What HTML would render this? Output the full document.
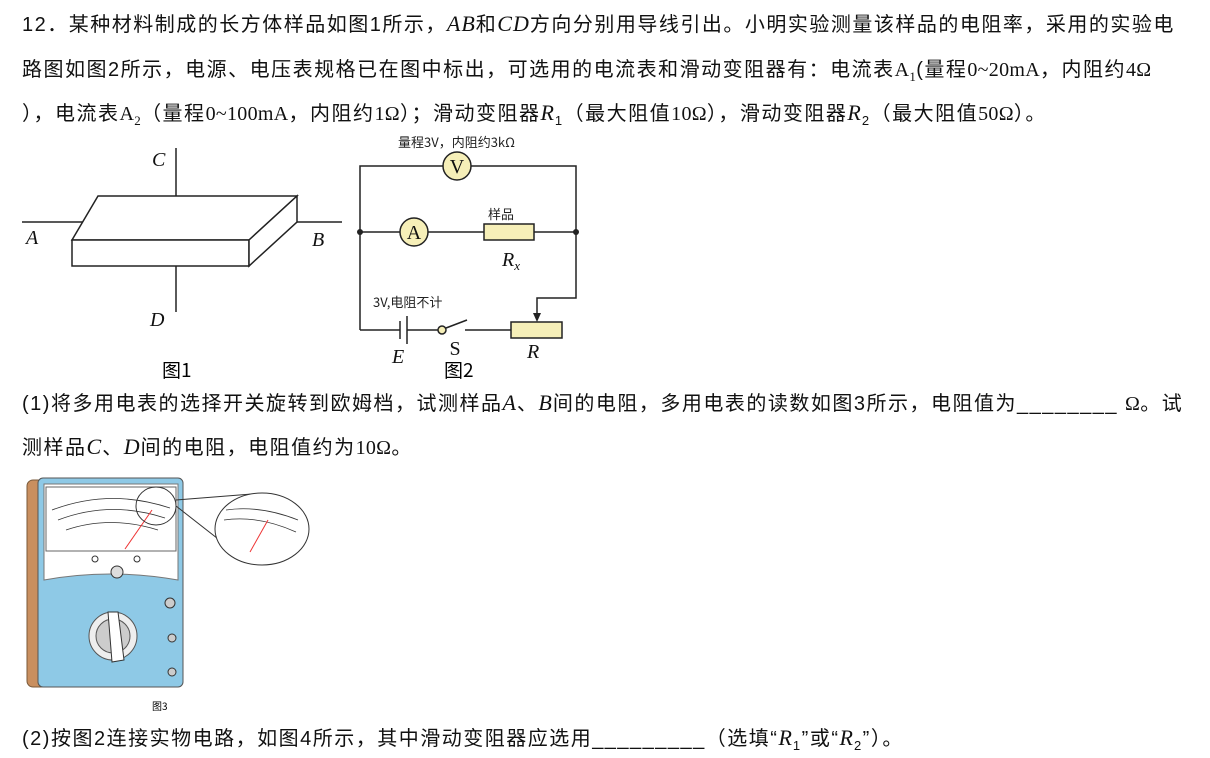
<!DOCTYPE html><html><head><meta charset="utf-8"><style>
body{margin:0;width:1210px;height:758px;background:#fff;overflow:hidden;position:relative;font-family:"Liberation Sans","Noto Sans CJK SC",sans-serif;color:#111}
.t{position:absolute;left:22px;font-size:20px;letter-spacing:1.5px;white-space:nowrap;line-height:24px}
i{font-family:"Liberation Serif",serif;font-size:22px;letter-spacing:1px}
.s{font-family:"Liberation Serif",serif;letter-spacing:0.3px}
</style></head><body>
<div class="t" style="top:12px">12．某种材料制成的长方体样品如图1所示，<i>AB</i>和<i>CD</i>方向分别用导线引出。小明实验测量该样品的电阻率，采用的实验电</div>
<div class="t" style="top:58px">路图如图2所示，电源、电压表规格已在图中标出，可选用的电流表和滑动变阻器有：电流表<span class="s">A<sub style="font-size:13px">1</sub></span>(量程<span class="s">0~20mA</span>，内阻约<span class="s">4Ω</span></div>
<div class="t" style="top:101px">），电流表<span class="s">A<sub style="font-size:13px">2</sub></span>（量程<span class="s">0~100mA</span>，内阻约<span class="s">1Ω</span>）；滑动变阻器<i>R</i><sub style="font-size:13px">1</sub>（最大阻值<span class="s">10Ω</span>），滑动变阻器<i>R</i><sub style="font-size:13px">2</sub>（最大阻值<span class="s">50Ω</span>）。</div>
<div class="t" style="top:391px">(1)将多用电表的选择开关旋转到欧姆档，试测样品<i>A</i>、<i>B</i>间的电阻，多用电表的读数如图3所示，电阻值为________ <span class="s">Ω</span>。试</div>
<div class="t" style="top:435px">测样品<i>C</i>、<i>D</i>间的电阻，电阻值约为<span class="s">10Ω</span>。</div>
<div class="t" style="top:726px">(2)按图2连接实物电路，如图4所示，其中滑动变阻器应选用_________（选填“<i>R</i><sub style="font-size:13px">1</sub>”或“<i>R</i><sub style="font-size:13px">2</sub>”）。</div>
<svg width="1210" height="758" style="position:absolute;left:0;top:0" font-family="Liberation Serif,serif">
<g stroke="#222" stroke-width="1.5" fill="#fff">
<line x1="176" y1="148" x2="176" y2="218"/>
<line x1="22" y1="222" x2="100" y2="222"/>
<polygon points="72,240 98,196 297,196 249,240"/>
<rect x="72" y="240" width="177" height="26"/>
<polygon points="249,240 297,196 297,222 249,266"/>
<line x1="176" y1="266" x2="176" y2="312"/>
<line x1="297" y1="222" x2="342" y2="222"/>
</g>
<g font-style="italic" font-size="20" fill="#111">
<text x="152" y="166">C</text><text x="26" y="244">A</text><text x="312" y="246">B</text><text x="150" y="326">D</text></g>
<text x="162" y="377" font-size="19" font-family="Noto Sans CJK SC">图1</text>
<g stroke="#222" stroke-width="1.5" fill="none">
<polyline points="360,330 360,166 576,166 576,298 537,298 537,316"/>
<line x1="360" y1="232" x2="576" y2="232"/>
<line x1="360" y1="330" x2="400" y2="330"/><line x1="407" y1="330" x2="438" y2="330"/>
<line x1="400" y1="321" x2="400" y2="339"/><line x1="407" y1="316" x2="407" y2="344"/>
<line x1="446" y1="328" x2="467" y2="320"/>
<line x1="465" y1="330" x2="511" y2="330"/>
</g>
<polygon points="533,313 541,313 537,322" fill="#222"/>
<circle cx="360" cy="232" r="3" fill="#222"/><circle cx="576" cy="232" r="3" fill="#222"/>
<circle cx="442" cy="330" r="4" fill="#f6efb8" stroke="#222" stroke-width="1.5"/>
<g fill="#f6efb8" stroke="#222" stroke-width="1.5">
<circle cx="457" cy="166" r="14"/><circle cx="414" cy="232" r="14"/>
<rect x="484" y="224" width="50" height="16"/><rect x="511" y="322" width="51" height="16"/></g>
<g font-size="20" fill="#111" text-anchor="middle"><text x="457" y="173">V</text><text x="414" y="239">A</text><text x="455" y="355">S</text></g>
<g font-size="20" fill="#111" font-style="italic"><text x="502" y="266">R<tspan font-size="13" dy="4">x</tspan></text><text x="392" y="363">E</text><text x="527" y="358">R</text></g>
<g font-family="Noto Sans CJK SC,sans-serif" fill="#222" font-size="13"><text x="398" y="147">量程3V，内阻约3kΩ</text><text x="488" y="219">样品</text><text x="373" y="307">3V,电阻不计</text></g>
<text x="444" y="377" font-size="19" font-family="Noto Sans CJK SC">图2</text>
<rect x="27" y="480" width="20" height="207" rx="6" fill="#c98f5f" stroke="#7a5a3a"/>
<rect x="38" y="478" width="145" height="209" rx="5" fill="#8ec9e6" stroke="#555"/>
<path d="M44,484 H178 V580 Q110,568 44,580 Z" fill="#fff" stroke="#777"/>
<rect x="46" y="487" width="130" height="64" fill="#fff" stroke="#666"/>
<path d="M52,510 Q110,488 170,508 M58,520 Q110,500 165,518 M66,530 Q110,515 158,530" stroke="#333" fill="none" stroke-width="0.8"/>
<line x1="125" y1="549" x2="152" y2="510" stroke="#e33"/>
<circle cx="95" cy="559" r="3" fill="none" stroke="#333"/><circle cx="137" cy="559" r="3" fill="none" stroke="#333"/>
<circle cx="117" cy="572" r="6" fill="#ddd" stroke="#333"/>
<circle cx="113" cy="636" r="24" fill="#eee" stroke="#555"/>
<circle cx="113" cy="636" r="17" fill="#ccc" stroke="#555"/>
<polygon points="108,612 118,612 124,660 112,662" fill="#fff" stroke="#333"/>
<circle cx="170" cy="603" r="5" fill="#ccc" stroke="#333"/><circle cx="172" cy="638" r="4" fill="#ccc" stroke="#333"/><circle cx="172" cy="672" r="4" fill="#ccc" stroke="#333"/>
<ellipse cx="156" cy="506" rx="20" ry="19" fill="none" stroke="#333"/>
<line x1="176" y1="500" x2="252" y2="494" stroke="#333"/><line x1="176" y1="506" x2="245" y2="560" stroke="#333"/>
<ellipse cx="262" cy="529" rx="47" ry="36" fill="#fff" stroke="#333"/>
<path d="M226,510 Q260,505 298,520 M224,520 Q258,515 296,532" stroke="#333" fill="none" stroke-width="0.8"/>
<line x1="250" y1="552" x2="268" y2="520" stroke="#e33"/>
<text x="152" y="710" font-size="10" font-family="Noto Sans CJK SC">图3</text>
</svg>
</body></html>
